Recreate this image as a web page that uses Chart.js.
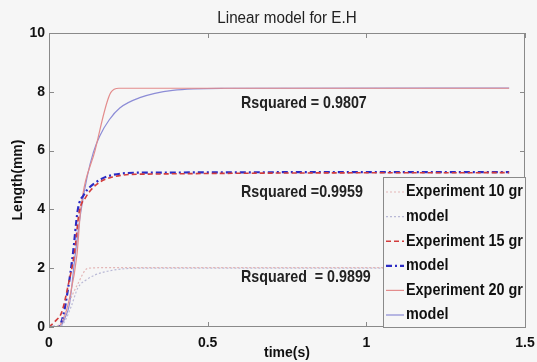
<!DOCTYPE html>
<html>
<head>
<meta charset="utf-8">
<script src="https://cdn.jsdelivr.net/npm/chart.js@4.4.1/dist/chart.umd.min.js"></script>
<style>
  html, body { margin: 0; padding: 0; background: #f6f6f6; }
  #wrap { width: 537px; height: 362px; position: relative; }
</style>
</head>
<body>
<div id="wrap"><canvas id="grafico" width="537" height="362"></canvas></div>
<script>
// Datos (t en s, longitud en mm)
const exp10 = [[0, 0], [0.03, 0.05], [0.045, 0.3], [0.06, 0.75], [0.09, 1.45], [0.123, 2.0], [0.2, 2.02], [1.45, 2.02]];
const model10 = [[0, 0], [0.035, 0.02], [0.05, 0.2], [0.07, 0.7], [0.091, 1.33], [0.12, 1.62], [0.145, 1.77], [0.2, 1.93], [0.28, 2.0], [1.45, 2.0]];
const exp15 = [[0, 0], [0.02, 0.2], [0.04, 0.5], [0.06, 1.4], [0.08, 2.5], [0.095, 3.9], [0.115, 4.4], [0.15, 4.85], [0.2, 5.1], [0.3, 5.2], [1.45, 5.25]];
const model15 = [[0, 0], [0.03, 0.02], [0.045, 0.4], [0.06, 1.3], [0.075, 2.45], [0.091, 4.0], [0.11, 4.5], [0.145, 4.9], [0.2, 5.17], [0.3, 5.25], [1.45, 5.27]];
const exp20 = [[0, 0], [0.03, 0.02], [0.05, 0.4], [0.065, 1.0], [0.088, 2.45], [0.1, 4.0], [0.145, 6.0], [0.195, 7.98], [0.22, 8.12], [1.45, 8.12]];
const model20 = [[0, 0], [0.035, 0.02], [0.05, 0.3], [0.065, 0.8], [0.082, 2.4], [0.1, 3.9], [0.12, 5.1], [0.14, 5.95], [0.16, 6.5], [0.19, 7.05], [0.223, 7.45], [0.286, 7.8], [0.39, 8.05], [0.55, 8.12], [1.45, 8.13]];
const xTicks = [0, 0.5, 1, 1.5];
const yTicks = [0, 2, 4, 6, 8, 10];
const rsqText = ['Rsquared = 0.9807', 'Rsquared =0.9959', 'Rsquared  = 0.9899'];
const rsqT = [0.605, 0.605, 0.605];
const rsqV = [7.62, 4.59, 1.70];

const FUENTE = "'Liberation Sans', Arial, sans-serif";

function pts(arr) {
  return arr.map(p => ({ x: p[0], y: p[1] }));
}

// texto comprimido horizontalmente (la figura usa una letra estrecha)
function textoEstrecho(ctx, txt, x, y, factor) {
  const w = ctx.measureText(txt).width;
  ctx.fillText(txt, x, y, w * factor);
}

const series = [
  { label: 'Experiment 10 gr', data: exp10, color: '#e3b6b6', dash: [2, 2], width: 1.2 },
  { label: 'model', data: model10, color: '#b9b9d6', dash: [2, 2], width: 1.2 },
  { label: 'Experiment 15 gr', data: exp15, color: '#d23c3c', dash: [5, 3], width: 1.6 },
  { label: 'model', data: model15, color: '#2b2bc4', dash: [6, 3, 2, 3], width: 2.2 },
  { label: 'Experiment 20 gr', data: exp20, color: '#e38c8c', dash: [], width: 1.2 },
  { label: 'model', data: model20, color: '#8c8cd6', dash: [], width: 1.2 }
];

// Marco, marcas interiores, textos Rsquared y leyenda
const extras = {
  id: 'extras',
  afterDatasetsDraw(chart) {
    const ctx = chart.ctx;
    const a = chart.chartArea;
    const xs = chart.scales.x;
    const ys = chart.scales.y;
    ctx.save();
    ctx.strokeStyle = '#8a8a8a';
    ctx.lineWidth = 1;
    ctx.strokeRect(a.left + 0.5, a.top + 0.5, a.right - a.left - 1, a.bottom - a.top - 1);
    ctx.beginPath();
    xTicks.forEach(t => {
      const px = Math.round(xs.getPixelForValue(t)) + 0.5;
      ctx.moveTo(px, a.bottom); ctx.lineTo(px, a.bottom - 5);
      ctx.moveTo(px, a.top); ctx.lineTo(px, a.top + 5);
    });
    yTicks.forEach(v => {
      const py = Math.round(ys.getPixelForValue(v)) + 0.5;
      ctx.moveTo(a.left, py); ctx.lineTo(a.left + 5, py);
      ctx.moveTo(a.right, py); ctx.lineTo(a.right - 5, py);
    });
    ctx.stroke();

    ctx.fillStyle = '#222';
    ctx.font = 'bold 17px ' + FUENTE;
    ctx.textBaseline = 'middle';
    ctx.textAlign = 'left';
    rsqText.forEach((txt, i) => {
      textoEstrecho(ctx, txt, xs.getPixelForValue(rsqT[i]), ys.getPixelForValue(rsqV[i]), 0.84);
    });

    // leyenda
    const lx = 383, ly = 177, lw = a.right - lx, lh = a.bottom - ly;
    ctx.fillStyle = '#f6f6f6';
    ctx.fillRect(lx, ly, lw, lh);
    ctx.strokeStyle = '#8a8a8a';
    ctx.strokeRect(lx + 0.5, ly + 0.5, lw, lh);
    ctx.font = 'bold 16px ' + FUENTE;
    series.forEach((s, i) => {
      const y = ly + 15 + i * 24.6;
      ctx.beginPath();
      ctx.strokeStyle = s.color;
      ctx.lineWidth = s.width;
      ctx.setLineDash(s.dash);
      ctx.moveTo(lx + 3, y); ctx.lineTo(lx + 21, y);
      ctx.stroke();
      ctx.setLineDash([]);
      ctx.fillStyle = '#111';
      textoEstrecho(ctx, s.label, lx + 23, y, 0.9);
    });

    ctx.font = '16px ' + FUENTE;
    ctx.textAlign = 'center';
    ctx.fillStyle = '#222';
    textoEstrecho(ctx, 'Linear model for E.H', (a.left + a.right) / 2, 19, 0.95);
    ctx.restore();
  }
};

const ctx = document.getElementById('grafico').getContext('2d');
new Chart(ctx, {
  type: 'line',
  data: {
    datasets: series.map(s => ({
      label: s.label,
      data: pts(s.data),
      borderColor: s.color,
      borderWidth: s.width,
      borderDash: s.dash,
      pointRadius: 0,
      cubicInterpolationMode: 'monotone',
      fill: false
    }))
  },
  options: {
    responsive: false,
    animation: false,
    layout: { padding: { top: 33, right: 12, left: 0, bottom: 0 } },
    plugins: {
      legend: { display: false },
      title: { display: false },
      tooltip: { enabled: false }
    },
    scales: {
      x: {
        type: 'linear',
        min: 0,
        max: 1.5,
        afterBuildTicks: s => { s.ticks = xTicks.map(v => ({ value: v })); },
        afterFit: s => { s.height = 35; s.paddingLeft = 0; s.paddingRight = 0; },
        grid: { display: false, drawTicks: false },
        border: { display: false },
        ticks: {
          color: '#111',
          font: { family: FUENTE, size: 14, weight: 'bold' },
          padding: 8,
          maxRotation: 0,
          callback: v => String(v)
        },
        title: {
          display: true,
          text: 'time(s)',
          color: '#111',
          font: { family: FUENTE, size: 14, weight: 'bold' },
          padding: { top: -4, bottom: 0 }
        }
      },
      y: {
        type: 'linear',
        min: 0,
        max: 10,
        afterBuildTicks: s => { s.ticks = yTicks.map(v => ({ value: v })); },
        afterFit: s => { s.width = 49; s.paddingTop = 0; s.paddingBottom = 0; },
        grid: { display: false, drawTicks: false },
        border: { display: false },
        ticks: {
          color: '#111',
          font: { family: FUENTE, size: 14, weight: 'bold' },
          padding: 4
        },
        title: {
          display: true,
          text: 'Length(mm)',
          color: '#111',
          font: { family: FUENTE, size: 14, weight: 'bold' },
          padding: { top: 10, bottom: 2 }
        }
      }
    }
  },
  plugins: [extras]
});
</script>
</body>
</html>
